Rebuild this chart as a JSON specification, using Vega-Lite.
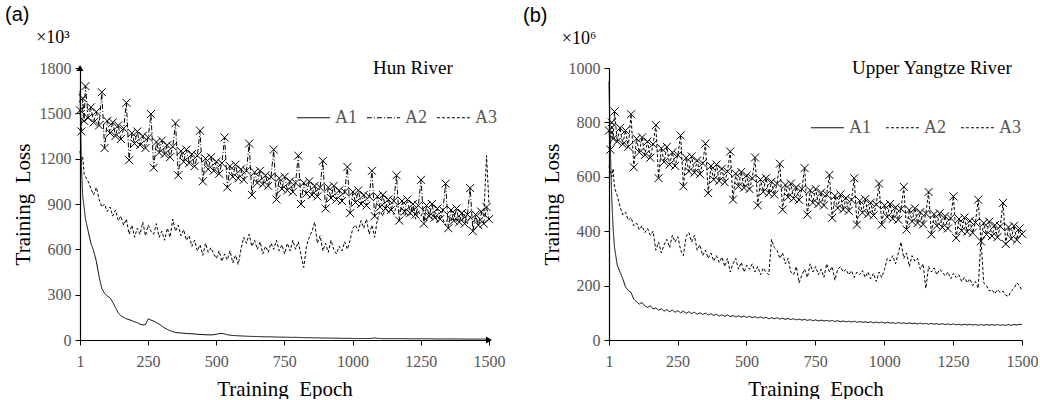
{
"$schema": "https://vega.github.io/schema/vega-lite/v6.json",
"padding": {"left": 5, "top": 5, "right": 0, "bottom": 0},
"config": {"view": {"stroke": null}, "font": "Liberation Serif",
 "axis": {"grid": false, "domainColor": "black", "domainWidth": 1.2, "tickColor": "black", "tickSize": 5, "labelColor": "#555", "labelFont": "Liberation Serif", "labelFontSize": 16, "titleFont": "Liberation Serif", "titleFontSize": 21, "titleFontWeight": "normal", "titleColor": "black", "labelFlush": false, "format": "d"},
 "legend": {"orient": "none", "direction": "horizontal", "title": null, "symbolType": "stroke", "symbolStrokeColor": "black", "symbolStrokeWidth": 1, "symbolSize": 1100, "labelFont": "Liberation Serif", "labelFontSize": 18, "labelColor": "#555", "labelOffset": 4},
 "title": {"font": "Liberation Sans", "fontSize": 20, "fontWeight": "normal", "anchor": "start", "frame": "bounds", "color": "black"}
},
"resolve": {"scale": {"strokeDash": "independent"}, "legend": {"strokeDash": "independent"}},
"spacing": 18,
"datasets": {"loss": [
{"e":1,"a1":1650,"a2":1520,"a3":1250,"b1":950,"b2":770,"b3":640},
{"e":6,"a1":1150,"a2":1380,"a3":1180,"b1":700,"b2":700,"b3":620},
{"e":11,"a1":950,"a2":1600,"a3":1210,"b1":520,"b2":800,"b3":600},
{"e":16,"a1":880,"a2":1450,"a3":1100,"b1":410,"b2":740,"b3":630},
{"e":21,"a1":800,"a2":1680,"a3":1080,"b1":340,"b2":840,"b3":560},
{"e":31,"a1":720,"a2":1470,"a3":1050,"b1":275,"b2":730,"b3":530},
{"e":41,"a1":640,"a2":1540,"a3":1000,"b1":250,"b2":780,"b3":490},
{"e":51,"a1":590,"a2":1440,"a3":960,"b1":225,"b2":720,"b3":460},
{"e":61,"a1":520,"a2":1510,"a3":1010,"b1":195,"b2":770,"b3":470},
{"e":71,"a1":420,"a2":1420,"a3":930,"b1":182,"b2":710,"b3":440},
{"e":81,"a1":340,"a2":1640,"a3":880,"b1":175,"b2":830,"b3":450},
{"e":91,"a1":310,"a2":1270,"a3":900,"b1":150,"b2":635,"b3":420},
{"e":101,"a1":290,"a2":1450,"a3":850,"b1":140,"b2":740,"b3":430},
{"e":111,"a1":280,"a2":1370,"a3":880,"b1":132,"b2":690,"b3":405},
{"e":121,"a1":250,"a2":1440,"a3":820,"b1":138,"b2":745,"b3":420},
{"e":131,"a1":215,"a2":1350,"a3":860,"b1":125,"b2":680,"b3":395},
{"e":141,"a1":180,"a2":1420,"a3":790,"b1":120,"b2":730,"b3":410},
{"e":151,"a1":160,"a2":1330,"a3":820,"b1":126,"b2":670,"b3":385},
{"e":161,"a1":150,"a2":1400,"a3":760,"b1":114,"b2":720,"b3":400},
{"e":171,"a1":140,"a2":1570,"a3":800,"b1":118,"b2":790,"b3":330},
{"e":181,"a1":135,"a2":1190,"a3":700,"b1":110,"b2":595,"b3":360},
{"e":191,"a1":128,"a2":1370,"a3":760,"b1":115,"b2":705,"b3":320},
{"e":201,"a1":120,"a2":1300,"a3":680,"b1":106,"b2":655,"b3":350},
{"e":211,"a1":115,"a2":1380,"a3":740,"b1":112,"b2":710,"b3":370},
{"e":221,"a1":105,"a2":1290,"a3":700,"b1":104,"b2":645,"b3":340},
{"e":231,"a1":100,"a2":1350,"a3":780,"b1":110,"b2":690,"b3":385},
{"e":241,"a1":102,"a2":1270,"a3":690,"b1":102,"b2":640,"b3":360},
{"e":251,"a1":140,"a2":1340,"a3":760,"b1":108,"b2":680,"b3":380},
{"e":261,"a1":132,"a2":1495,"a3":720,"b1":100,"b2":752,"b3":330},
{"e":271,"a1":125,"a2":1140,"a3":700,"b1":106,"b2":565,"b3":310},
{"e":281,"a1":115,"a2":1310,"a3":770,"b1":98,"b2":670,"b3":380},
{"e":291,"a1":105,"a2":1240,"a3":680,"b1":104,"b2":620,"b3":395},
{"e":301,"a1":92,"a2":1320,"a3":720,"b1":97,"b2":675,"b3":360},
{"e":311,"a1":80,"a2":1230,"a3":660,"b1":102,"b2":615,"b3":385},
{"e":321,"a1":70,"a2":1290,"a3":740,"b1":95,"b2":660,"b3":330},
{"e":331,"a1":62,"a2":1210,"a3":680,"b1":100,"b2":610,"b3":350},
{"e":341,"a1":55,"a2":1280,"a3":800,"b1":94,"b2":650,"b3":310},
{"e":351,"a1":50,"a2":1435,"a3":720,"b1":99,"b2":722,"b3":330},
{"e":361,"a1":48,"a2":1090,"a3":760,"b1":92,"b2":540,"b3":300},
{"e":371,"a1":46,"a2":1250,"a3":690,"b1":97,"b2":640,"b3":320},
{"e":381,"a1":45,"a2":1180,"a3":730,"b1":90,"b2":590,"b3":290},
{"e":391,"a1":43,"a2":1260,"a3":660,"b1":95,"b2":645,"b3":310},
{"e":401,"a1":42,"a2":1170,"a3":690,"b1":88,"b2":585,"b3":285},
{"e":411,"a1":41,"a2":1230,"a3":620,"b1":93,"b2":630,"b3":305},
{"e":421,"a1":40,"a2":1150,"a3":660,"b1":87,"b2":580,"b3":270},
{"e":431,"a1":38,"a2":1220,"a3":590,"b1":92,"b2":620,"b3":300},
{"e":441,"a1":37,"a2":1385,"a3":630,"b1":86,"b2":693,"b3":250},
{"e":451,"a1":36,"a2":1050,"a3":560,"b1":90,"b2":516,"b3":280},
{"e":461,"a1":35,"a2":1200,"a3":640,"b1":85,"b2":612,"b3":300},
{"e":471,"a1":34,"a2":1130,"a3":580,"b1":89,"b2":565,"b3":260},
{"e":481,"a1":34,"a2":1210,"a3":610,"b1":84,"b2":618,"b3":285},
{"e":491,"a1":35,"a2":1120,"a3":570,"b1":88,"b2":560,"b3":250},
{"e":501,"a1":38,"a2":1180,"a3":540,"b1":83,"b2":605,"b3":275},
{"e":511,"a1":42,"a2":1100,"a3":590,"b1":87,"b2":555,"b3":260},
{"e":521,"a1":44,"a2":1170,"a3":520,"b1":82,"b2":595,"b3":280},
{"e":531,"a1":40,"a2":1340,"a3":570,"b1":86,"b2":671,"b3":250},
{"e":541,"a1":35,"a2":1010,"a3":530,"b1":81,"b2":495,"b3":270},
{"e":551,"a1":32,"a2":1150,"a3":590,"b1":85,"b2":590,"b3":240},
{"e":561,"a1":30,"a2":1080,"a3":510,"b1":80,"b2":545,"b3":265},
{"e":571,"a1":29,"a2":1160,"a3":560,"b1":84,"b2":595,"b3":250},
{"e":581,"a1":28,"a2":1070,"a3":500,"b1":78,"b2":540,"b3":240},
{"e":591,"a1":27,"a2":1130,"a3":600,"b1":82,"b2":582,"b3":370},
{"e":601,"a1":26,"a2":1060,"a3":680,"b1":78,"b2":535,"b3":340},
{"e":611,"a1":25,"a2":1120,"a3":640,"b1":82,"b2":575,"b3":330},
{"e":621,"a1":24,"a2":1300,"a3":700,"b1":77,"b2":648,"b3":300},
{"e":631,"a1":24,"a2":960,"a3":620,"b1":80,"b2":479,"b3":320},
{"e":641,"a1":23,"a2":1110,"a3":660,"b1":76,"b2":570,"b3":280},
{"e":651,"a1":23,"a2":1040,"a3":600,"b1":79,"b2":525,"b3":300},
{"e":661,"a1":22,"a2":1120,"a3":650,"b1":75,"b2":575,"b3":250},
{"e":671,"a1":22,"a2":1030,"a3":570,"b1":78,"b2":520,"b3":240},
{"e":681,"a1":21,"a2":1090,"a3":620,"b1":74,"b2":562,"b3":270},
{"e":691,"a1":21,"a2":1020,"a3":580,"b1":77,"b2":515,"b3":210},
{"e":701,"a1":21,"a2":1080,"a3":640,"b1":73,"b2":555,"b3":240},
{"e":711,"a1":20,"a2":1260,"a3":600,"b1":76,"b2":632,"b3":260},
{"e":721,"a1":20,"a2":930,"a3":660,"b1":72,"b2":461,"b3":230},
{"e":731,"a1":19,"a2":1070,"a3":590,"b1":75,"b2":550,"b3":280},
{"e":741,"a1":19,"a2":1000,"a3":630,"b1":71,"b2":505,"b3":250},
{"e":751,"a1":19,"a2":1080,"a3":570,"b1":74,"b2":555,"b3":270},
{"e":761,"a1":18,"a2":990,"a3":640,"b1":70,"b2":500,"b3":240},
{"e":771,"a1":18,"a2":1050,"a3":590,"b1":73,"b2":542,"b3":260},
{"e":781,"a1":17,"a2":980,"a3":660,"b1":70,"b2":495,"b3":230},
{"e":791,"a1":18,"a2":1040,"a3":600,"b1":72,"b2":535,"b3":280},
{"e":801,"a1":17,"a2":1220,"a3":650,"b1":69,"b2":607,"b3":250},
{"e":811,"a1":16,"a2":900,"a3":560,"b1":72,"b2":449,"b3":270},
{"e":821,"a1":16,"a2":1040,"a3":480,"b1":68,"b2":530,"b3":220},
{"e":831,"a1":15,"a2":970,"a3":620,"b1":71,"b2":485,"b3":260},
{"e":841,"a1":15,"a2":1050,"a3":680,"b1":67,"b2":535,"b3":270},
{"e":851,"a1":15,"a2":960,"a3":720,"b1":70,"b2":480,"b3":250},
{"e":861,"a1":14,"a2":1020,"a3":780,"b1":67,"b2":522,"b3":260},
{"e":871,"a1":14,"a2":950,"a3":640,"b1":69,"b2":475,"b3":240},
{"e":881,"a1":14,"a2":1010,"a3":690,"b1":66,"b2":515,"b3":255},
{"e":891,"a1":13,"a2":1185,"a3":590,"b1":69,"b2":595,"b3":230},
{"e":901,"a1":13,"a2":870,"a3":640,"b1":65,"b2":424,"b3":250},
{"e":911,"a1":13,"a2":1010,"a3":580,"b1":68,"b2":512,"b3":240},
{"e":921,"a1":12,"a2":940,"a3":660,"b1":65,"b2":468,"b3":255},
{"e":931,"a1":12,"a2":1020,"a3":600,"b1":67,"b2":518,"b3":230},
{"e":941,"a1":12,"a2":930,"a3":570,"b1":64,"b2":462,"b3":250},
{"e":951,"a1":12,"a2":990,"a3":620,"b1":67,"b2":505,"b3":225},
{"e":961,"a1":11,"a2":920,"a3":590,"b1":63,"b2":458,"b3":245},
{"e":971,"a1":11,"a2":980,"a3":650,"b1":66,"b2":498,"b3":215},
{"e":981,"a1":11,"a2":1145,"a3":600,"b1":63,"b2":575,"b3":250},
{"e":991,"a1":11,"a2":840,"a3":660,"b1":66,"b2":424,"b3":230},
{"e":1001,"a1":10,"a2":980,"a3":740,"b1":62,"b2":495,"b3":260},
{"e":1011,"a1":10,"a2":910,"a3":760,"b1":65,"b2":452,"b3":300},
{"e":1021,"a1":10,"a2":990,"a3":720,"b1":62,"b2":500,"b3":290},
{"e":1031,"a1":10,"a2":900,"a3":790,"b1":64,"b2":446,"b3":310},
{"e":1041,"a1":10,"a2":960,"a3":740,"b1":61,"b2":488,"b3":280},
{"e":1051,"a1":10,"a2":890,"a3":800,"b1":64,"b2":442,"b3":320},
{"e":1061,"a1":10,"a2":950,"a3":700,"b1":61,"b2":482,"b3":360},
{"e":1071,"a1":11,"a2":1120,"a3":760,"b1":63,"b2":563,"b3":300},
{"e":1081,"a1":14,"a2":820,"a3":680,"b1":60,"b2":406,"b3":320},
{"e":1091,"a1":11,"a2":950,"a3":800,"b1":63,"b2":478,"b3":270},
{"e":1101,"a1":10,"a2":880,"a3":850,"b1":60,"b2":436,"b3":310},
{"e":1111,"a1":9,"a2":960,"a3":820,"b1":62,"b2":484,"b3":290},
{"e":1121,"a1":9,"a2":870,"a3":880,"b1":59,"b2":430,"b3":300},
{"e":1131,"a1":9,"a2":930,"a3":840,"b1":62,"b2":470,"b3":260},
{"e":1141,"a1":9,"a2":860,"a3":870,"b1":59,"b2":425,"b3":280},
{"e":1151,"a1":9,"a2":920,"a3":830,"b1":61,"b2":465,"b3":190},
{"e":1161,"a1":9,"a2":1090,"a3":890,"b1":58,"b2":544,"b3":270},
{"e":1171,"a1":9,"a2":790,"a3":850,"b1":61,"b2":388,"b3":250},
{"e":1181,"a1":9,"a2":920,"a3":870,"b1":58,"b2":462,"b3":265},
{"e":1191,"a1":9,"a2":850,"a3":820,"b1":60,"b2":420,"b3":240},
{"e":1201,"a1":8,"a2":930,"a3":860,"b1":57,"b2":466,"b3":260},
{"e":1211,"a1":8,"a2":840,"a3":830,"b1":60,"b2":414,"b3":250},
{"e":1221,"a1":8,"a2":900,"a3":880,"b1":57,"b2":455,"b3":235},
{"e":1231,"a1":8,"a2":830,"a3":800,"b1":59,"b2":410,"b3":250},
{"e":1241,"a1":8,"a2":890,"a3":850,"b1":56,"b2":448,"b3":225},
{"e":1251,"a1":8,"a2":1060,"a3":820,"b1":59,"b2":528,"b3":245},
{"e":1261,"a1":8,"a2":770,"a3":860,"b1":56,"b2":375,"b3":230},
{"e":1271,"a1":8,"a2":890,"a3":790,"b1":58,"b2":445,"b3":240},
{"e":1281,"a1":8,"a2":820,"a3":840,"b1":55,"b2":402,"b3":215},
{"e":1291,"a1":8,"a2":900,"a3":800,"b1":58,"b2":450,"b3":230},
{"e":1301,"a1":7,"a2":810,"a3":850,"b1":55,"b2":398,"b3":210},
{"e":1311,"a1":7,"a2":870,"a3":780,"b1":58,"b2":438,"b3":225},
{"e":1321,"a1":7,"a2":800,"a3":830,"b1":55,"b2":394,"b3":200},
{"e":1331,"a1":7,"a2":860,"a3":800,"b1":57,"b2":432,"b3":215},
{"e":1341,"a1":7,"a2":1035,"a3":760,"b1":54,"b2":516,"b3":190},
{"e":1351,"a1":7,"a2":740,"a3":820,"b1":57,"b2":363,"b3":370},
{"e":1361,"a1":7,"a2":860,"a3":790,"b1":54,"b2":430,"b3":210},
{"e":1371,"a1":7,"a2":790,"a3":840,"b1":57,"b2":388,"b3":200},
{"e":1381,"a1":7,"a2":870,"a3":780,"b1":54,"b2":435,"b3":180},
{"e":1391,"a1":7,"a2":780,"a3":820,"b1":57,"b2":382,"b3":185},
{"e":1401,"a1":6,"a2":840,"a3":790,"b1":54,"b2":422,"b3":170},
{"e":1411,"a1":6,"a2":770,"a3":830,"b1":57,"b2":378,"b3":185},
{"e":1421,"a1":6,"a2":830,"a3":770,"b1":54,"b2":418,"b3":175},
{"e":1431,"a1":6,"a2":1005,"a3":820,"b1":56,"b2":504,"b3":180},
{"e":1441,"a1":6,"a2":720,"a3":780,"b1":54,"b2":353,"b3":165},
{"e":1451,"a1":6,"a2":830,"a3":810,"b1":57,"b2":415,"b3":160},
{"e":1461,"a1":6,"a2":760,"a3":760,"b1":54,"b2":372,"b3":180},
{"e":1471,"a1":6,"a2":850,"a3":800,"b1":57,"b2":420,"b3":190},
{"e":1481,"a1":6,"a2":770,"a3":820,"b1":55,"b2":368,"b3":210},
{"e":1491,"a1":6,"a2":880,"a3":1220,"b1":58,"b2":410,"b3":200},
{"e":1500,"a1":6,"a2":800,"a3":900,"b1":57,"b2":390,"b3":180}
]},
"hconcat": [
{
 "width": 409, "height": 272,
 "title": {"text": "(a)", "dx": -7, "offset": 4},
 "data": {"name": "loss"},
 "transform": [{"fold": ["a1", "a2", "a3"], "as": ["s", "v"]}],
 "layer": [
  {"mark": {"type": "line", "color": "black", "strokeWidth": 1},
   "encoding": {
    "x": {"field": "e", "type": "quantitative", "scale": {"domain": [1, 1500], "nice": false, "zero": false}, "axis": {"values": [1, 250, 500, 750, 1000, 1250, 1500], "title": "Training\u00a0 Epoch", "labelPadding": 8, "titlePadding": 9}},
    "y": {"field": "v", "type": "quantitative", "scale": {"domain": [0, 1800], "nice": false}, "axis": {"values": [0, 300, 600, 900, 1200, 1500, 1800], "title": "Training\u00a0 Loss", "labelPadding": 4, "titlePadding": 6}},
    "strokeDash": {"field": "s", "type": "nominal", "scale": {"domain": ["a1", "a2", "a3"], "range": [[1, 0], [5, 2, 1, 2], [3, 2]]}, "legend": {"legendX": 216, "legendY": 32, "labelExpr": "'A' + substring(datum.label, 1)", "columnPadding": 7}}
   }},
  {"transform": [{"filter": "datum.s == 'a2'"}],
   "mark": {"type": "point", "shape": "M-1,-1L1,1M-1,1L1,-1", "size": 64, "filled": false, "color": "black", "opacity": 1, "strokeWidth": 1},
   "encoding": {"x": {"field": "e", "type": "quantitative", "title": "Training\u00a0 Epoch"}, "y": {"field": "v", "type": "quantitative", "title": "Training\u00a0 Loss"}}},
  {"data": {"values": [{"x": 1, "y": 1800, "sh": "triangle-up"}, {"x": 1500, "y": 0, "sh": "triangle-right"}]},
   "mark": {"type": "point", "filled": true, "color": "black", "opacity": 1, "size": 50},
   "encoding": {"x": {"field": "x", "type": "quantitative"}, "y": {"field": "y", "type": "quantitative"}, "shape": {"field": "sh", "type": "nominal", "scale": null, "legend": null}}},
  {"data": {"values": [{"t": "Hun River"}]},
   "mark": {"type": "text", "font": "Liberation Serif", "fontSize": 19, "color": "black", "baseline": "middle"},
   "encoding": {"x": {"datum": 1221}, "y": {"datum": 1800}, "text": {"field": "t"}}},
  {"data": {"values": [{"t": "×10³"}]},
   "mark": {"type": "text", "font": "Liberation Serif", "fontSize": 18, "color": "black", "baseline": "middle", "dx": -27, "dy": -30},
   "encoding": {"x": {"datum": 1}, "y": {"datum": 1800}, "text": {"field": "t"}}}
 ]
},
{
 "width": 413, "height": 272,
 "title": {"text": "(b)", "dx": -18, "offset": 4},
 "data": {"name": "loss"},
 "transform": [{"fold": ["b1", "b2", "b3"], "as": ["s", "v"]}],
 "layer": [
  {"mark": {"type": "line", "color": "black", "strokeWidth": 1},
   "encoding": {
    "x": {"field": "e", "type": "quantitative", "scale": {"domain": [1, 1500], "nice": false, "zero": false}, "axis": {"values": [1, 250, 500, 750, 1000, 1250, 1500], "title": "Training\u00a0 Epoch", "labelPadding": 8, "titlePadding": 9}},
    "y": {"field": "v", "type": "quantitative", "scale": {"domain": [0, 1000], "nice": false}, "axis": {"values": [0, 200, 400, 600, 800, 1000], "title": "Training\u00a0 Loss", "labelPadding": 4, "titlePadding": 6}},
    "strokeDash": {"field": "s", "type": "nominal", "scale": {"domain": ["b1", "b2", "b3"], "range": [[1, 0], [3, 2], [3, 2]]}, "legend": {"legendX": 201, "legendY": 42, "labelExpr": "'A' + substring(datum.label, 1)", "columnPadding": 12}}
   }},
  {"transform": [{"filter": "datum.s == 'b2'"}],
   "mark": {"type": "point", "shape": "M-1,-1L1,1M-1,1L1,-1", "size": 64, "filled": false, "color": "black", "opacity": 1, "strokeWidth": 1},
   "encoding": {"x": {"field": "e", "type": "quantitative", "title": "Training\u00a0 Epoch"}, "y": {"field": "v", "type": "quantitative", "title": "Training\u00a0 Loss"}}},
  {"data": {"values": [{"t": "Upper Yangtze River"}]},
   "mark": {"type": "text", "font": "Liberation Serif", "fontSize": 19, "color": "black", "baseline": "middle"},
   "encoding": {"x": {"datum": 1173}, "y": {"datum": 1000}, "text": {"field": "t"}}},
  {"data": {"values": [{"t": "×10⁶"}]},
   "mark": {"type": "text", "font": "Liberation Serif", "fontSize": 18, "color": "black", "baseline": "middle", "dx": -30, "dy": -29},
   "encoding": {"x": {"datum": 1}, "y": {"datum": 1000}, "text": {"field": "t"}}}
 ]
}
]
}
